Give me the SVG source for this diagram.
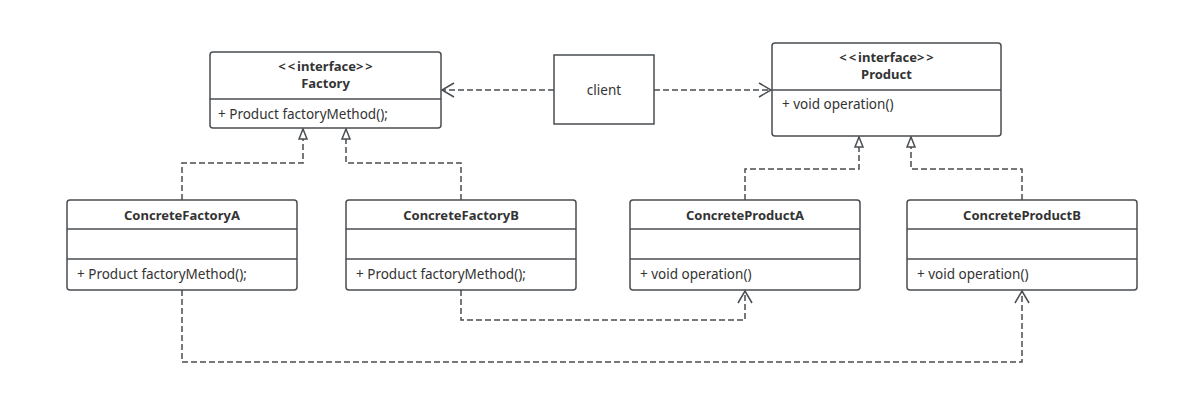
<svg xmlns="http://www.w3.org/2000/svg" width="1201" height="407" viewBox="0 0 1201 407">
<style>
.box{fill:#fff;stroke:#4a4d52;stroke-width:1.5}
.div{stroke:#4a4d52;stroke-width:1.5}
.t{font-family:"Noto Sans","Open Sans",sans-serif;font-size:13.5px;fill:#333}
.b{font-weight:bold;text-anchor:middle;font-size:13px}
.m{text-anchor:middle}
.br{letter-spacing:2px}
.c{fill:none;stroke:#4a4d52;stroke-width:1.5;stroke-dasharray:6 3}
</style>
<defs>
<marker id="open" markerWidth="16" markerHeight="16" refX="13" refY="8" orient="auto" markerUnits="userSpaceOnUse">
<path d="M1,1 L13,8 L1,15" fill="none" stroke="#4a4d52" stroke-width="1.5"/>
</marker>
<marker id="tri" markerWidth="14" markerHeight="14" refX="11" refY="5" orient="auto" markerUnits="userSpaceOnUse">
<path d="M1,1 L11,5 L1,9 Z" fill="#fff" stroke="#4a4d52" stroke-width="1.5"/>
</marker>
</defs>
<rect width="1201" height="407" fill="#fff"/>
<g id="connectors">
<path class="c" d="M554,90 H442" marker-end="url(#open)"/>
<path class="c" d="M654,90 H771" marker-end="url(#open)"/>
<path class="c" d="M182,200 V163 H303 V129" marker-end="url(#tri)"/>
<path class="c" d="M461,200 V163 H346 V129" marker-end="url(#tri)"/>
<path class="c" d="M745,200 V169 H859 V137" marker-end="url(#tri)"/>
<path class="c" d="M1022,200 V169 H911 V137" marker-end="url(#tri)"/>
<path class="c" d="M461,290 V320 H745 V291" marker-end="url(#open)"/>
<path class="c" d="M182,290 V362 H1022 V291" marker-end="url(#open)"/>
</g>
<g id="factory">
<rect class="box" x="210" y="52" width="231" height="76" rx="3"/>
<line class="div" x1="210" y1="99" x2="441" y2="99"/>
<text class="t b" x="326.5" y="71"><tspan class="br">&lt;&lt;</tspan>interface<tspan class="br">&gt;&gt;</tspan></text>
<text class="t b" x="325.5" y="88">Factory</text>
<text class="t" x="218" y="119">+ Product factoryMethod();</text>
</g>
<g id="client">
<rect class="box" x="554" y="55" width="100" height="69" rx="0"/>
<text class="t m" x="604" y="95">client</text>
</g>
<g id="product">
<rect class="box" x="772" y="43" width="229" height="93" rx="3"/>
<line class="div" x1="772" y1="90" x2="1001" y2="90"/>
<text class="t b" x="887.5" y="62"><tspan class="br">&lt;&lt;</tspan>interface<tspan class="br">&gt;&gt;</tspan></text>
<text class="t b" x="886.5" y="79">Product</text>
<text class="t" x="782" y="109">+ void operation()</text>
</g>
<g id="concreteFactoryA">
<rect class="box" x="67" y="200" width="230" height="90" rx="3"/>
<line class="div" x1="67" y1="229" x2="297" y2="229"/>
<line class="div" x1="67" y1="259" x2="297" y2="259"/>
<text class="t b" x="182" y="220">ConcreteFactoryA</text>
<text class="t" x="77" y="279">+ Product factoryMethod();</text>
</g>
<g id="concreteFactoryB">
<rect class="box" x="346" y="200" width="230" height="90" rx="3"/>
<line class="div" x1="346" y1="229" x2="576" y2="229"/>
<line class="div" x1="346" y1="259" x2="576" y2="259"/>
<text class="t b" x="461" y="220">ConcreteFactoryB</text>
<text class="t" x="356" y="279">+ Product factoryMethod();</text>
</g>
<g id="concreteProductA">
<rect class="box" x="630" y="200" width="230" height="90" rx="3"/>
<line class="div" x1="630" y1="229" x2="860" y2="229"/>
<line class="div" x1="630" y1="259" x2="860" y2="259"/>
<text class="t b" x="745" y="220">ConcreteProductA</text>
<text class="t" x="640" y="279">+ void operation()</text>
</g>
<g id="concreteProductB">
<rect class="box" x="907" y="200" width="230" height="90" rx="3"/>
<line class="div" x1="907" y1="229" x2="1137" y2="229"/>
<line class="div" x1="907" y1="259" x2="1137" y2="259"/>
<text class="t b" x="1022" y="220">ConcreteProductB</text>
<text class="t" x="917" y="279">+ void operation()</text>
</g>
</svg>
